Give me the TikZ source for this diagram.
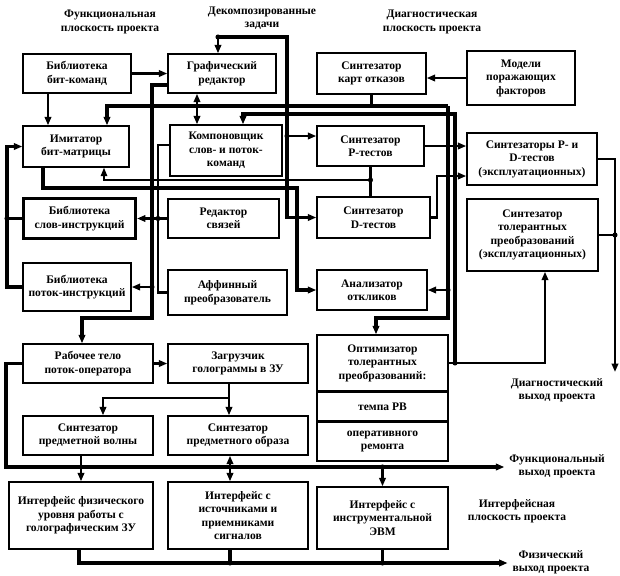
\documentclass[tikz,border=0pt]{standalone}
\usepackage{fontspec}
\setmainfont{Liberation Serif}
\usetikzlibrary{arrows.meta, calc}
\newcommand{\blkfont}{\fontsize{8.2}{9.6}\selectfont\bfseries}

\begin{document}
\begin{tikzpicture}[x=0.025cm, y=-0.025cm, >={Triangle[length=6pt, width=4.6pt]},
  blk/.style={draw, line width=1pt, align=center, inner sep=1pt, font=\blkfont},
  plane/.style={align=center, font=\blkfont},
  bus/.style={line width=2.4pt},
  link/.style={line width=1.5pt},
  fine/.style={line width=1pt}]

% Background
\fill[white] (0,0) rectangle (620,575);
\useasboundingbox (0,0) rectangle (620,575);

% Plane captions
\node[plane] (capfun) at (110,22) {Функциональная\\плоскость проекта};
\node[plane] (captask) at (262,18) {Декомпозированные\\задачи};
\node[plane] (capdiag) at (432,22) {Диагностическая\\плоскость проекта};
\node[plane] (outdiag) at (557,390) {Диагностический\\выход проекта};
\node[plane] (outfun) at (557,466) {Функциональный\\выход проекта};
\node[plane] (capint) at (517,511) {Интерфейсная\\плоскость проекта};
\node[plane] (outphys) at (551,562) {Физический\\выход проекта};

% Row 1
\node[blk, minimum width=2.7cm, minimum height=0.975cm] (bitcmd) at (77,73.5) {Библиотека\\бит-команд};
\node[blk, minimum width=2.7cm, minimum height=0.975cm] (graph) at (222,73.5) {Графический\\редактор};
\node[blk, minimum width=2.725cm, minimum height=1.025cm] (cards) at (371.5,73.5) {Синтезатор\\карт отказов};
\node[blk, minimum width=2.7cm, minimum height=1.35cm] (models) at (521,78) {Модели\\поражающих\\факторов};

% Row 2
\node[blk, minimum width=2.65cm, minimum height=1.025cm] (imit) at (76,146.5) {Имитатор\\бит-матрицы};
\node[blk, minimum width=2.8cm, minimum height=1.275cm] (linker) at (226,150.5) {Компоновщик\\слов- и поток-\\команд};
\node[blk, minimum width=2.675cm, minimum height=1cm] (ptest) at (370.5,146) {Синтезатор\\P-тестов};
\node[blk, minimum width=3.25cm, minimum height=1.3cm] (pdexp) at (532,159) {Синтезаторы P- и\\D-тестов\\(эксплуатационных)};

% Row 3
\node[blk, line width=2.2pt, minimum width=2.8cm, minimum height=1cm] (wordlib) at (79.5,218.5) {Библиотека\\слов-инструкций};
\node[blk, minimum width=2.775cm, minimum height=0.975cm] (linked) at (223.5,218.5) {Редактор\\связей};
\node[blk, minimum width=2.825cm, minimum height=1.025cm] (dtest) at (373.5,217.5) {Синтезатор\\D-тестов};
\node[blk, minimum width=3.275cm, minimum height=1.8cm] (tolexp) at (532.5,235) {Синтезатор\\толерантных\\преобразований\\(эксплуатационных)};

% Row 4
\node[blk, minimum width=2.7cm, minimum height=1.2cm] (flowlib) at (77,287) {Библиотека\\поток-инструкций};
\node[blk, minimum width=2.975cm, minimum height=1.125cm] (affine) at (227.5,292.5) {Аффинный\\преобразователь};
\node[blk, minimum width=2.75cm, minimum height=1cm] (resp) at (372,290) {Анализатор\\откликов};

% Row 5
\node[blk, minimum width=3.25cm, minimum height=0.975cm] (body) at (88,363.5) {Рабочее тело\\поток-оператора};
\node[blk, minimum width=3.5cm, minimum height=0.975cm] (loader) at (238,363.5) {Загрузчик\\голограммы в ЗУ};
\node[blk, minimum width=3.275cm, minimum height=1.4cm] (optA) at (382.5,363) {Оптимизатор\\толерантных\\преобразований:};
\node[blk, minimum width=3.275cm, minimum height=0.7cm, anchor=north] (optB) at (optA.south) {темпа РВ};
\node[blk, minimum width=3.275cm, minimum height=0.975cm, anchor=north] (optC) at (optB.south) {оперативного\\ремонта};

% Row 6
\node[blk, minimum width=3.25cm, minimum height=0.975cm] (wave) at (88,435.5) {Синтезатор\\предметной волны};
\node[blk, minimum width=3.5cm, minimum height=0.975cm] (image) at (238,435.5) {Синтезатор\\предметного образа};

% Row 7
\node[blk, minimum width=3.6cm, minimum height=1.675cm] (phys) at (81,515.5) {Интерфейс физического\\уровня работы с\\голографическим ЗУ};
\node[blk, minimum width=3.5cm, minimum height=1.675cm] (srcs) at (238,515.5) {Интерфейс с\\источниками и\\приемниками\\сигналов};
\node[blk, minimum width=3.275cm, minimum height=1.55cm] (evm) at (382.5,518) {Интерфейс с\\инструментальной\\ЭВМ};

% Bend points
\coordinate (tsk) at (218,37);
\coordinate (tx) at (287,0);
\coordinate (xb) at (48,0);
\coordinate (gx) at (197,0);
\coordinate (b1) at (107,106);
\coordinate (b2) at (448,106);
\coordinate (b3) at (448,318);
\coordinate (b4) at (376,318);
\coordinate (o1) at (455,114);
\coordinate (o2) at (243,114);
\coordinate (o3) at (545,0);
\coordinate (d1) at (437,176);
\coordinate (dout) at (615,372);
\coordinate (m1) at (104,180);
\coordinate (r1) at (43,188);
\coordinate (r2) at (297,188);
\coordinate (g1) at (152,85);
\coordinate (g2) at (152,318);
\coordinate (g3) at (82,318);
\coordinate (k1) at (158,145);
\coordinate (l1) at (7,0);
\coordinate (s1) at (229,398);
\coordinate (s2) at (103,398);
\coordinate (f1) at (6,467);
\coordinate (i1) at (230,0);
\coordinate (p1) at (79,563);

% Functional plane
\draw[link,->] (bitcmd.east) -- (graph.west);
\draw[link,->] (xb |- bitcmd.south) -- (xb |- imit.north);
\draw[link,<->] (gx |- graph.south) -- (gx |- linker.north);
\draw[bus,->] (flowlib.west) -| (l1 |- imit.west) -- (imit.west);
\draw[bus] (wordlib.west) -- (l1 |- wordlib.west);
\fill (l1 |- wordlib.west) circle (1.8pt);
\draw[bus,->] (g1 -| graph.west) -- (g1) -- (g2) -- (g3) -- (g3 |- body.north);
\draw[link,->] (g1 |- flowlib.east) -- (flowlib.east);
\fill (g1 |- flowlib.east) circle (1.8pt);
\draw[link] (linker.west |- k1) -- (k1) -- (k1 |- affine.west) -- (affine.west);
\draw[link,->] (linked.west) -- (wordlib.east);
\fill (k1 |- linked.west) circle (1.8pt);
\fill (g1 |- linked.west) circle (1.8pt);
\draw[bus,->] (imit.south -| r1) -- (r1) -- (r2) -- (r2 |- resp.west) -- (resp.west);

% Decomposed tasks
\draw[bus,->] (tsk) -| (tx |- dtest.west) -- (dtest.west);
\draw[link,->] (tsk) -- (tsk |- graph.north);
\fill (tsk) circle (1.8pt);
\draw[link,->] ($(tx |- ptest.west)+(0,-10)$) -- ($(ptest.west)+(0,-10)$);
\fill ($(tx |- ptest.west)+(0,-10)$) circle (1.8pt);

% Diagnostic plane
\draw[link,->] (models.west) -- (models.west -| cards.east);
\draw[bus] (cards.south) -- (cards.south |- b1);
\draw[bus,->] (b2) -- (b1) -- (b1 |- imit.north);
\draw[bus,->] (b2) -- (b3) -- (b4) -- (b4 |- optA.north);
\draw[link,->] (b2 |- resp.east) -- (resp.east);
\fill (b2 |- resp.east) circle (1.8pt);
\draw[bus] (ptest.south) -- (ptest.south |- dtest.north);
\draw[fine,->] (ptest.south |- m1) -- (m1) -- (m1 |- imit.south);
\fill (ptest.south |- m1) circle (1.8pt);
\draw[link,->] (ptest.east) -- (ptest.east -| pdexp.west);
\draw[link,->] (dtest.east) -| (d1) -- (d1 -| pdexp.west);
\draw[link,->] (pdexp.east) -| (dout);
\draw[link] (tolexp.east) -- (dout |- tolexp.east);
\fill (dout |- tolexp.east) circle (1.8pt);
\draw[link,->] (optA.east) -| (o3 |- tolexp.south);
\draw[bus,->] (optA.east -| o1) -- (o1) -- (o2) -- (o2 |- linker.north);
\fill (optA.east -| o1) circle (1.8pt);

% Interface plane
\draw[link,->] (body.east) -- (loader.west);
\draw[link,->] (loader.south -| s1) -- (s1) -- (s2) -- (s2 |- wave.north);
\draw[link,->] (s1) -- (s1 |- image.north);
\draw[bus,->] (body.west) -| (f1) -- (f1 -| outfun.west);
\draw[link,->] (evm.north |- f1) -- (evm.north);
\fill (evm.north |- f1) circle (1.8pt);
\draw[link,->] (phys.north |- wave.south) -- (phys.north);
\draw[link,<->] (i1 |- image.south) -- (i1 |- srcs.north);
\draw[bus,->] (p1 |- phys.south) -- (p1) -- (p1 -| outphys.west);
\draw[bus] (i1 |- srcs.south) -- (i1 |- p1);
\fill (i1 |- p1) circle (1.8pt);
\draw[bus] (evm.south) -- (evm.south |- p1);
\fill (evm.south |- p1) circle (1.8pt);

\end{tikzpicture}
\end{document}
